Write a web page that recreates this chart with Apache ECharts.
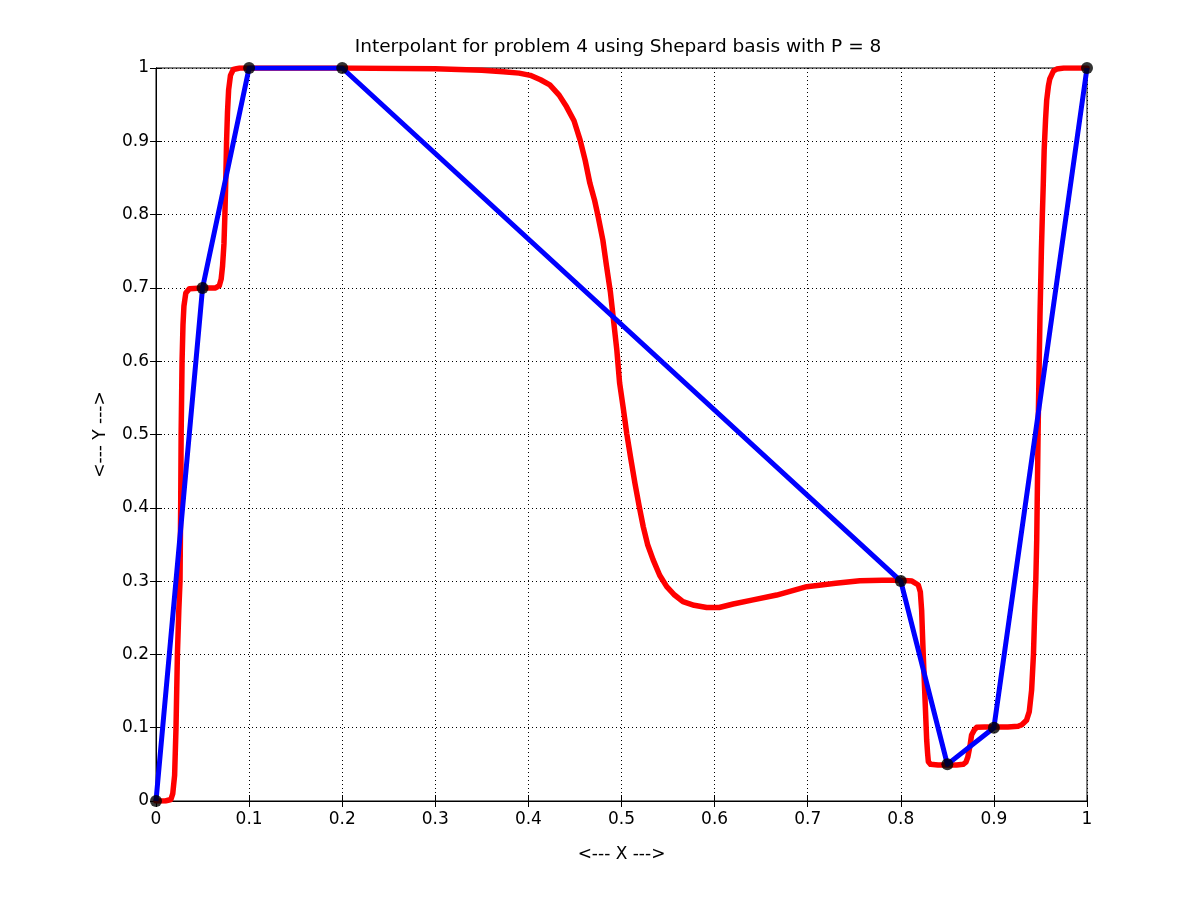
<!DOCTYPE html>
<html>
<head>
<meta charset="utf-8">
<script src="https://cdn.jsdelivr.net/npm/echarts@6/dist/echarts.min.js"></script>
<style>
html,body{margin:0;padding:0;background:#fff;}
#c{width:1200px;height:901px;}
</style>
</head>
<body>
<div id="c"></div>
<script>
// Data nodes (black dots / blue piecewise-linear interpolant)
var nodeX = [0, 0.05, 0.1, 0.2, 0.8, 0.85, 0.9, 1];
var nodeY = [0, 0.7, 1, 1, 0.3, 0.05, 0.1, 1];

// Red Shepard interpolant
var shepX = [0, 0.010, 0.016, 0.018, 0.020, 0.0215, 0.023, 0.0245, 0.0258, 0.0265, 0.027, 0.028, 0.029, 0.030, 0.032, 0.036, 0.050, 0.064, 0.068, 0.070, 0.0715, 0.073, 0.074, 0.075, 0.0758, 0.0768, 0.078, 0.080, 0.083, 0.090, 0.100,
  0.200, 0.300, 0.350, 0.373, 0.390, 0.402, 0.413, 0.423, 0.433, 0.441, 0.449, 0.4555, 0.461, 0.466, 0.471, 0.475, 0.480, 0.484, 0.488, 0.491, 0.495, 0.498, 0.502, 0.5056, 0.510, 0.5145, 0.519, 0.5234, 0.528, 0.534, 0.541, 0.5486, 0.557, 0.566, 0.578, 0.5915, 0.605, 0.620, 0.640, 0.6667, 0.699, 0.730, 0.756, 0.780, 0.800, 0.812, 0.8188, 0.821, 0.8224, 0.8235, 0.8242, 0.826, 0.8278, 0.8288, 0.8296, 0.832, 0.840, 0.850, 0.860, 0.867, 0.870, 0.872, 0.8743, 0.876, 0.879, 0.8815, 0.890, 0.900, 0.915, 0.926, 0.930, 0.935, 0.938, 0.9405, 0.9425, 0.944, 0.945, 0.946, 0.9477, 0.9495, 0.951, 0.952, 0.953, 0.954, 0.9555, 0.9567, 0.9585, 0.960, 0.962, 0.964, 0.9675, 0.975, 1.0];
var shepY = [0, 0, 0.002, 0.010, 0.035, 0.10, 0.20, 0.26, 0.30, 0.40, 0.50, 0.60, 0.65, 0.675, 0.693, 0.699, 0.70, 0.70, 0.703, 0.712, 0.73, 0.76, 0.80, 0.85, 0.90, 0.94, 0.97, 0.99, 0.998, 1.0, 1.0,
  1.0, 0.999, 0.997, 0.995, 0.993, 0.990, 0.984, 0.977, 0.963, 0.947, 0.928, 0.902, 0.874, 0.843, 0.820, 0.797, 0.765, 0.729, 0.695, 0.661, 0.615, 0.570, 0.535, 0.5016, 0.467, 0.433, 0.402, 0.374, 0.350, 0.329, 0.308, 0.2924, 0.281, 0.272, 0.267, 0.264, 0.264, 0.2687, 0.274, 0.281, 0.2924, 0.297, 0.3006, 0.301, 0.301, 0.300, 0.2947, 0.285, 0.26, 0.22, 0.197, 0.14, 0.0832, 0.065, 0.0536, 0.050, 0.049, 0.049, 0.049, 0.050, 0.053, 0.060, 0.075, 0.090, 0.097, 0.1005, 0.101, 0.101, 0.101, 0.102, 0.104, 0.110, 0.122, 0.151, 0.20, 0.265, 0.30, 0.356, 0.524, 0.661, 0.75, 0.797, 0.84, 0.888, 0.93, 0.956, 0.975, 0.985, 0.9905, 0.996, 0.9986, 1.0, 1.0];

var xTickLabels = ['0','0.1','0.2','0.3','0.4','0.5','0.6','0.7','0.8','0.9','1'];
var yTickLabels = ['0','0.1','0.2','0.3','0.4','0.5','0.6','0.7','0.8','0.9','1'];

var titleText = 'Interpolant for problem 4 using Shepard basis with P = 8';
var xName = '<--- X --->';
var yName = '<--- Y --->';

function zip(a, b) { var r = []; for (var i = 0; i < a.length; i++) r.push([a[i], b[i]]); return r; }
function lab(arr) { return function (v) { return arr[Math.round(v * 10)]; }; }

var FONT = '"DejaVu Sans", sans-serif';
var FS = 17;
var chart = echarts.init(document.getElementById('c'), null, { renderer: 'canvas' });
var gridLine = { show: true, lineStyle: { color: '#000', width: 1, type: [1, 3] } };
chart.setOption({
  backgroundColor: '#fff',
  animation: false,
  title: {
    text: titleText, left: 613, top: 33, textAlign: 'center',
    textStyle: { fontFamily: FONT, fontSize: 18.5, fontWeight: 'normal', color: '#000' }
  },
  grid: { left: 156, right: 113, top: 68, bottom: 100, show: true, borderColor: '#000', borderWidth: 1, backgroundColor: 'transparent' },
  xAxis: [{
    type: 'value', min: 0, max: 1, interval: 0.1, position: 'bottom',
    name: xName, nameLocation: 'middle', nameGap: 45,
    nameTextStyle: { fontFamily: FONT, fontSize: FS, color: '#000' },
    axisLine: { show: true, lineStyle: { color: '#000', width: 1 } },
    axisTick: { show: true, inside: true, length: 6, lineStyle: { color: '#000' } },
    axisLabel: { formatter: lab(xTickLabels), fontFamily: FONT, fontSize: FS, color: '#000', margin: 10 },
    splitLine: gridLine
  }, {
    type: 'value', min: 0, max: 1, interval: 0.1, position: 'top',
    axisLine: { show: true, lineStyle: { color: '#000', width: 1 } },
    axisTick: { show: true, inside: true, length: 6, lineStyle: { color: '#000' } },
    axisLabel: { show: false }, splitLine: { show: false }
  }],
  yAxis: [{
    type: 'value', min: 0, max: 1, interval: 0.1, position: 'left',
    name: yName, nameLocation: 'middle', nameGap: 47, nameRotate: 90,
    nameTextStyle: { fontFamily: FONT, fontSize: FS, color: '#000' },
    axisLine: { show: true, lineStyle: { color: '#000', width: 1 } },
    axisTick: { show: true, inside: true, length: 6, lineStyle: { color: '#000' } },
    axisLabel: { formatter: lab(yTickLabels), fontFamily: FONT, fontSize: FS, color: '#000', margin: 7 },
    splitLine: gridLine
  }, {
    type: 'value', min: 0, max: 1, interval: 0.1, position: 'right',
    axisLine: { show: true, lineStyle: { color: '#000', width: 1 } },
    axisTick: { show: true, inside: true, length: 6, lineStyle: { color: '#000' } },
    axisLabel: { show: false }, splitLine: { show: false }
  }],
  series: [{
    type: 'line', data: zip(shepX, shepY), showSymbol: false, symbol: 'none', smooth: false,
    lineStyle: { color: '#ff0000', width: 5.5, join: 'round', cap: 'round' }, z: 2
  }, {
    type: 'line', data: zip(nodeX, nodeY), symbol: 'none',
    lineStyle: { color: '#0000ff', width: 5, join: 'round' }, z: 3
  }, {
    type: 'scatter', data: zip(nodeX, nodeY), symbol: 'circle', symbolSize: 12,
    itemStyle: { color: '#000' }, z: 4
  }]
});
</script>
</body>
</html>
